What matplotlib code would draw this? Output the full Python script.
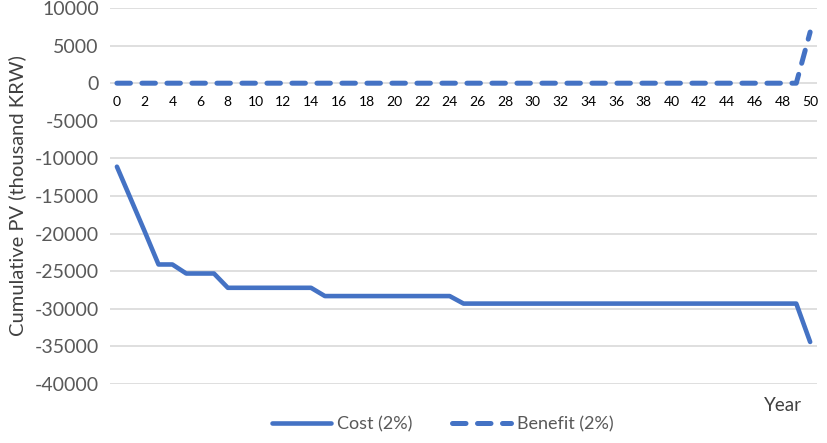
import matplotlib.pyplot as plt

years = list(range(0, 51))
cost = [-11100, -15400, -19700, -24100, -24100, -25300, -25300, -25300, -27200, -27200,
        -27200, -27200, -27200, -27200, -27200, -28300, -28300, -28300, -28300, -28300,
        -28300, -28300, -28300, -28300, -28300, -29300, -29300, -29300, -29300, -29300,
        -29300, -29300, -29300, -29300, -29300, -29300, -29300, -29300, -29300, -29300,
        -29300, -29300, -29300, -29300, -29300, -29300, -29300, -29300, -29300, -29300,
        -34400]
benefit = [0] * 50 + [6800]
yticks = list(range(-40000, 10001, 5000))
xticks = list(range(0, 51, 2))

plt.rcParams['font.family'] = ['Lato', 'DejaVu Sans']
grey = '#595959'
blue = '#4472C4'

fig = plt.figure(figsize=(8.27, 4.43), dpi=100)
ax = fig.add_axes([0.133, 0.133, 0.855, 0.849])

ax.plot(years, cost, color=blue, lw=3.3, solid_capstyle='round', solid_joinstyle='round',
        label='Cost (2%)', zorder=3)
ax.plot(years, benefit, color=blue, lw=3.6, linestyle=(0, (2.7, 2.3)), dash_capstyle='round',
        label='Benefit (2%)', zorder=3)

ax.set_xlim(-0.5, 50.5)
ax.set_ylim(-40000, 10000)
ax.set_yticks(yticks)
ax.set_yticklabels([str(v) for v in yticks], fontsize=14, color=grey)
ax.set_xticks(xticks)
ax.set_xticklabels([str(v) for v in xticks], fontsize=13.5, color=grey)
ax.spines['bottom'].set_position(('data', 0))
for s in ax.spines.values():
    s.set_visible(False)
ax.tick_params(axis='both', length=0)
ax.tick_params(axis='x', pad=9)
ax.tick_params(axis='y', pad=8)
ax.grid(True, axis='y', color='#d9d9d9', lw=1.2, zorder=0)
ax.set_axisbelow(True)

ax.set_ylabel('Cumulative PV (thousand KRW)', fontsize=14.5, color='#404040', labelpad=6)
fig.text(0.947, 0.085, 'Year', fontsize=13.5, color='#404040', ha='center', va='center')

fig.legend(loc='lower center', bbox_to_anchor=(0.535, -0.012), ncol=2, frameon=False,
           fontsize=13, handlelength=3.3, columnspacing=2.2, handletextpad=0.3,
           labelcolor=grey)

fig.savefig('out.png', dpi=100)
